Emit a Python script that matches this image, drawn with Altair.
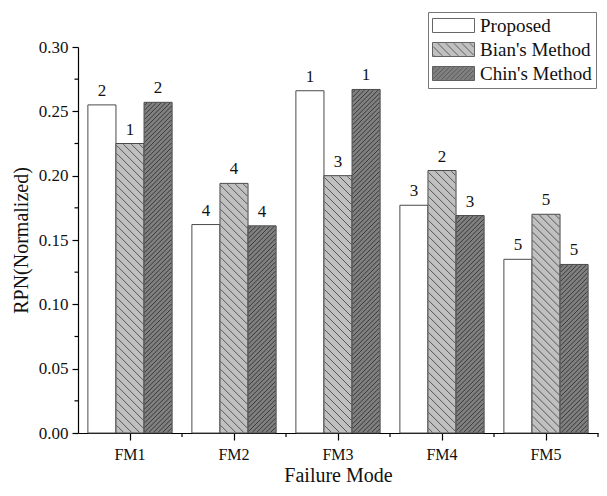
import altair as alt
import pandas as pd

# ---------------- data ----------------
modes = ["FM1", "FM2", "FM3", "FM4", "FM5"]
methods = ["Proposed", "Bian's Method", "Chin's Method"]
proposed = [0.255, 0.162, 0.266, 0.177, 0.135]
bian = [0.225, 0.194, 0.200, 0.204, 0.170]
chin = [0.257, 0.161, 0.267, 0.169, 0.131]
rank_proposed = [2, 4, 1, 3, 5]
rank_bian = [1, 4, 3, 2, 5]
rank_chin = [2, 4, 1, 3, 5]
y_ticks = [0.00, 0.05, 0.10, 0.15, 0.20, 0.25, 0.30]
y_minor = [0.025, 0.075, 0.125, 0.175, 0.225, 0.275]

# ---------------- layout / style ----------------
W, H = 520, 386
YMAX = 0.30
PAD_IN, PAD_OUT = 0.19, 0.095
FONT = "Liberation Serif"
fills = ["#ffffff", "#c0c0c0", "#808080"]
hatch_color = {"Bian's Method": "#3c3c3c", "Chin's Method": "#262626"}
hatch_space = {"Bian's Method": 8.0, "Chin's Method": 4.6}   # px, horizontal
slope_dn = {"Bian's Method": 1, "Chin's Method": -1}         # y-down coords

series = [proposed, bian, chin]
ranks = [rank_proposed, rank_bian, rank_chin]


def segs(x0, x1, y0, y1, slope, s):
    out = []
    if slope > 0:
        cmin, cmax = y0 - x1, y1 - x0
    else:
        cmin, cmax = x0 + y0, x1 + y1
    c = cmin + s / 2
    while c < cmax:
        if slope > 0:
            xa, xb = max(x0, y0 - c), min(x1, y1 - c)
            ya, yb = xa + c, xb + c
        else:
            xa, xb = max(x0, c - y1), min(x1, c - y0)
            ya, yb = c - xa, c - xb
        if xb - xa > 1e-6:
            out.append((xa, ya, xb, yb))
        c += s
    return out


# hatch texture as a symbol path centred on each bar (pixel units / R)
R = 180.0
step = W / 5.0
bar_w = step * (1 - PAD_IN) / 3.0


def hatch_path(value, method):
    if method not in hatch_space:
        return "M0,0"
    hw = bar_w / 2 - 0.7
    hh = value * H / YMAX / 2 - 0.7
    p = ""
    for (xa, ya, xb, yb) in segs(-hw, hw, -hh, hh, slope_dn[method], hatch_space[method]):
        p += f"M{xa / R:.4f},{ya / R:.4f}L{xb / R:.4f},{yb / R:.4f}"
    return p


rows = []
for k, m in enumerate(methods):
    for i, fm in enumerate(modes):
        v = series[k][i]
        rows.append({"mode": fm, "method": m, "value": v, "mid": v / 2,
                     "rank": str(ranks[k][i]), "hatch": hatch_path(v, m),
                     "hc": hatch_color.get(m, "#000")})
df = pd.DataFrame(rows)

# legend swatch: 42 x 14 px box drawn from a symbol of diameter S px
S = 18.0
SW, SH = 42.0, 14.0
u = S / 2.0
xl, xr = -1.0, -1.0 + SW / u
yt, yb_ = -SH / 2 / u, SH / 2 / u


def swatch(slope, s_px):
    p = f"M{xl:.3f},{yt:.3f}H{xr:.3f}V{yb_:.3f}H{xl:.3f}Z"
    if slope is None:
        return p
    for (xa, ya, xb, yb) in segs(xl + 0.08, xr - 0.08, yt + 0.08, yb_ - 0.08,
                                 slope, s_px / u):
        p += f"M{xa:.3f},{ya:.3f}L{xb:.3f},{yb:.3f}"
    return p


swatches = [swatch(None, 0), swatch(1, 8.0), swatch(-1, 4.6)]

# ---------------- chart ----------------
yscale = alt.Scale(domain=[0, YMAX], nice=False, zero=True)
xband = alt.Scale(domain=modes, paddingInner=PAD_IN, paddingOuter=PAD_OUT)
xoff = alt.XOffset("method:N", sort=methods,
                   scale=alt.Scale(domain=methods, paddingInner=0, paddingOuter=0))
xenc = alt.X("mode:N", sort=modes, scale=xband,
             axis=alt.Axis(title="Failure Mode", orient="bottom", labelAngle=0, grid=False,
                           labelFont=FONT, labelFontSize=16, labelColor="#111",
                           titleFont=FONT, titleFontSize=20, titleFontWeight="normal",
                           titleColor="#111", tickSize=7, tickWidth=1.2,
                           tickColor="black", domainColor="black", domainWidth=1.2,
                           labelPadding=6, titlePadding=3))
yaxis = alt.Axis(title="RPN(Normalized)", orient="left", values=y_ticks,
                 format=".2f", grid=False, labelFont=FONT, labelFontSize=17,
                 labelColor="#111", titleFont=FONT, titleFontSize=20,
                 titleFontWeight="normal", titleColor="#111",
                 tickSize=6, tickWidth=1.2, tickColor="black",
                 domainColor="black", domainWidth=1.2,
                 labelPadding=4, titlePadding=7)

leg = alt.Legend(title=None, orient="none", legendX=350, legendY=-35,
                 labelFont=FONT, labelFontSize=19, labelColor="#111",
                 symbolSize=S * S, symbolStrokeColor="#555", symbolStrokeWidth=0.9,
                 strokeColor="#777", fillColor="white", padding=4, rowPadding=4,
                 labelOffset=SW - S + 5)

base = alt.Chart(df)

bars = base.mark_bar(stroke="#4a4a4a", strokeWidth=1).encode(
    x=xenc, xOffset=xoff,
    y=alt.Y("value:Q", scale=yscale, axis=yaxis),
    fill=alt.Fill("method:N", scale=alt.Scale(domain=methods, range=fills),
                  legend=leg),
)

hatch = base.mark_point(filled=False, strokeWidth=0.8, size=(2 * R) ** 2,
                        opacity=1).encode(
    x=xenc, xOffset=xoff,
    y=alt.Y("mid:Q", scale=yscale, axis=yaxis),
    shape=alt.Shape("hatch:N", scale=None),
    stroke=alt.Stroke("hc:N", scale=None),
)

labels = base.mark_text(font=FONT, fontSize=17, color="#111",
                        baseline="alphabetic", dy=-9).encode(
    x=xenc, xOffset=xoff,
    y=alt.Y("value:Q", scale=yscale, axis=yaxis),
    text="rank:N",
)

ymin_df = pd.DataFrame({"v": y_minor})
yminor = alt.Chart(ymin_df).mark_rule(color="black", strokeWidth=1.2).encode(
    y=alt.Y("v:Q", scale=yscale, axis=yaxis),
    x=alt.value(-3.5), x2=alt.value(0),
)

xmin_df = pd.DataFrame({"mode": modes})
xminor = alt.Chart(xmin_df).mark_rule(color="black", strokeWidth=1.2,
                                      xOffset=step * PAD_IN / 2).encode(
    x=alt.X("mode:N", sort=modes, scale=xband, bandPosition=1),
    y=alt.value(H), y2=alt.value(H + 4),
)

# swatch shapes for the (merged) legend; no marks are drawn from this layer
legend_shapes = base.transform_filter("datum.value < 0").mark_point(
    filled=True, stroke="#555", opacity=1).encode(
    shape=alt.Shape("method:N", scale=alt.Scale(domain=methods, range=swatches),
                    legend=leg),
)

chart = alt.layer(bars, hatch, labels, yminor, xminor, legend_shapes).properties(
    width=W, height=H,
    padding={"left": 70, "top": 39, "right": 1, "bottom": 55},
    autosize=alt.AutoSizeParams(type="none"),
).configure_view(stroke=None)

chart.save("out.html", embed_options={"renderer": "svg", "actions": False})
